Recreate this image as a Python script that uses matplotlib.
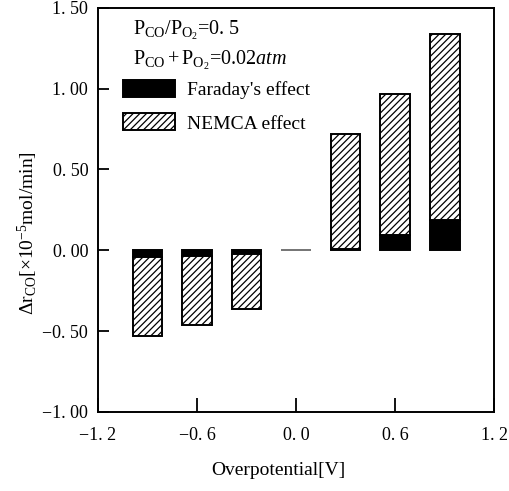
import matplotlib
matplotlib.use("Agg")
import matplotlib.pyplot as plt
import numpy as np

plt.rcParams['font.family'] = ['Liberation Serif', 'DejaVu Serif']
plt.rcParams['mathtext.fontset'] = 'custom'
plt.rcParams['mathtext.rm'] = 'Liberation Serif'
plt.rcParams['mathtext.it'] = 'Liberation Serif:italic'
plt.rcParams['hatch.linewidth'] = 0.9

overpotential = [-0.9, -0.6, -0.3, 0.0, 0.3, 0.6, 0.9]
faraday = [-0.04, -0.035, -0.025, 0.0, 0.01, 0.095, 0.19]
total = [-0.53, -0.46, -0.365, 0.0, 0.72, 0.97, 1.34]
xticks = [-1.2, -0.6, 0.0, 0.6, 1.2]
xticklabels = ['\u22121. 2', '\u22120. 6', '0. 0', '0. 6', '1. 2']
yticks = [-1.00, -0.50, 0.00, 0.50, 1.00, 1.50]
yticklabels = ['\u22121. 00', '\u22120. 50', '0. 00', '0. 50', '1. 00', '1. 50']

x = np.array(overpotential)
f = np.array(faraday)
t = np.array(total)
nemca = t - f
edge = ['black' if v != 0 else '#777777' for v in t]

fig = plt.figure(figsize=(5.10, 4.91), dpi=100)
ax = fig.add_axes([0.192, 0.161, 0.777, 0.823])

w = 0.18
b1 = ax.bar(x, f, width=w, color='black', edgecolor=edge, linewidth=1.4, label="Faraday's effect")
b2 = ax.bar(x, nemca, bottom=f, width=w, color='white', edgecolor=edge, linewidth=1.4,
            hatch='/////', label='NEMCA effect')

ax.set_xlim(-1.2, 1.2)
ax.set_ylim(-1.0, 1.5)
ax.set_xticks(xticks)
ax.set_xticklabels(xticklabels)
ax.set_yticks(yticks)
ax.set_yticklabels(yticklabels)
ax.tick_params(direction='in', length=8, width=1.3, labelsize=13, pad=7)
ax.tick_params(axis='x', length=10, pad=11)
for s in ax.spines.values():
    s.set_linewidth(1.4)

ax.set_xlabel('Overpotential[V]', fontsize=14)
ax.xaxis.set_label_coords(0.455, -0.125)
ax.set_ylabel(r'$\Delta\mathrm{r_{CO}}$[$\times$10$^{-5}$mol/min]', fontsize=14)
ax.yaxis.set_label_coords(-0.145, 0.443)

ax.text(0.088, 0.944, r'$\mathrm{P_{CO}/P_{O_2}}$=0. 5', transform=ax.transAxes, fontsize=14.5, va='center')
ax.text(0.088, 0.871, r'$\mathrm{P_{CO}+P_{O_2}}$=$\mathit{0.02atm}$', transform=ax.transAxes,
        fontsize=14.5, va='center')

ax.legend(handles=[b1, b2], loc='upper left', bbox_to_anchor=(0.063, 0.822), frameon=False,
          borderpad=0, borderaxespad=0, fontsize=14, handlelength=2.7, handleheight=0.95,
          handletextpad=0.6, labelspacing=0.75)

fig.savefig('out.png', dpi=100)
